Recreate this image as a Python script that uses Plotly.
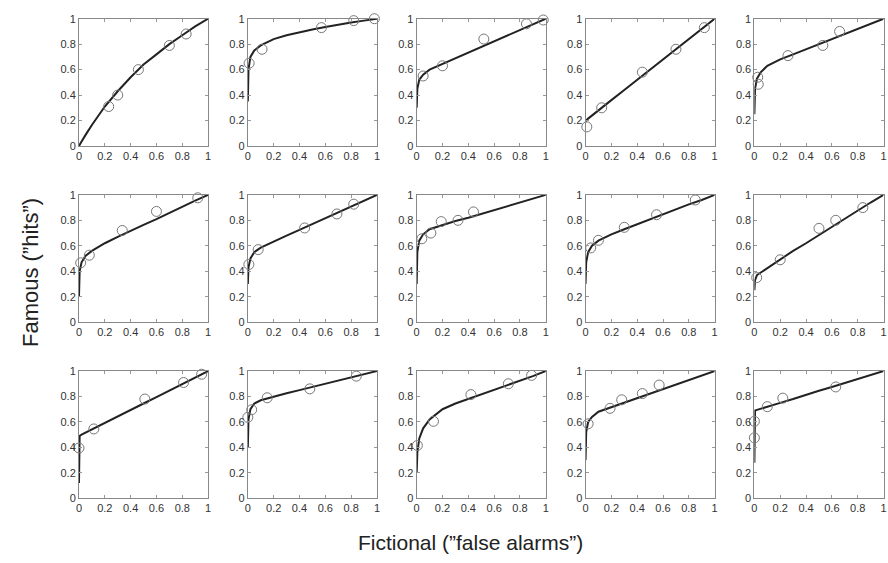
import plotly.graph_objects as go

# Observed (false alarm, hit) points for the 15 panels (row-major order)
pts_x = [
    [0.23, 0.30, 0.46, 0.70, 0.83],
    [0.01, 0.11, 0.57, 0.82, 0.98],
    [0.05, 0.20, 0.52, 0.85, 0.98],
    [0.01, 0.125, 0.44, 0.70, 0.92],
    [0.026, 0.03, 0.26, 0.53, 0.66],
    [0.013, 0.08, 0.335, 0.60, 0.92],
    [0.008, 0.08, 0.44, 0.69, 0.82],
    [0.04, 0.11, 0.19, 0.32, 0.44],
    [0.04, 0.10, 0.30, 0.55, 0.85],
    [0.018, 0.20, 0.50, 0.63, 0.84],
    [0.0, 0.115, 0.51, 0.81, 0.95],
    [0.0, 0.03, 0.15, 0.48, 0.84],
    [0.005, 0.13, 0.42, 0.71, 0.89],
    [0.02, 0.19, 0.28, 0.44, 0.57],
    [0.0, 0.0, 0.10, 0.22, 0.63],
]
pts_y = [
    [0.31, 0.40, 0.60, 0.79, 0.88],
    [0.65, 0.76, 0.93, 0.985, 1.0],
    [0.55, 0.63, 0.84, 0.96, 0.99],
    [0.15, 0.30, 0.58, 0.76, 0.93],
    [0.54, 0.485, 0.71, 0.79, 0.90],
    [0.466, 0.526, 0.72, 0.87, 0.977],
    [0.453, 0.57, 0.74, 0.85, 0.927],
    [0.655, 0.70, 0.79, 0.80, 0.866],
    [0.583, 0.643, 0.745, 0.844, 0.96],
    [0.35, 0.49, 0.737, 0.80, 0.90],
    [0.395, 0.545, 0.78, 0.91, 0.975],
    [0.636, 0.696, 0.79, 0.86, 0.96],
    [0.415, 0.605, 0.815, 0.90, 0.966],
    [0.585, 0.707, 0.774, 0.823, 0.89],
    [0.605, 0.475, 0.72, 0.787, 0.875],
]

# Fitted ROC curves at these false-alarm rates
curve_x = [0, 0.005, 0.02, 0.05, 0.1, 0.2, 0.3, 0.4, 0.5, 0.6, 0.7, 0.8, 0.9, 1.0]
curve_y = [
    [0.0, 0.01, 0.035, 0.085, 0.165, 0.31, 0.43, 0.54, 0.64, 0.72, 0.80, 0.87, 0.94, 1.0],
    [0.35, 0.60, 0.70, 0.75, 0.79, 0.84, 0.87, 0.895, 0.915, 0.935, 0.955, 0.97, 0.985, 1.0],
    [0.30, 0.45, 0.52, 0.56, 0.60, 0.645, 0.69, 0.735, 0.78, 0.825, 0.87, 0.915, 0.96, 1.0],
    [0.19, 0.20, 0.215, 0.24, 0.28, 0.36, 0.44, 0.52, 0.60, 0.68, 0.76, 0.84, 0.92, 1.0],
    [0.25, 0.45, 0.53, 0.58, 0.63, 0.68, 0.72, 0.76, 0.80, 0.84, 0.88, 0.92, 0.96, 1.0],
    [0.20, 0.40, 0.47, 0.52, 0.56, 0.62, 0.67, 0.72, 0.765, 0.81, 0.86, 0.905, 0.955, 1.0],
    [0.30, 0.43, 0.50, 0.55, 0.585, 0.635, 0.68, 0.725, 0.77, 0.815, 0.86, 0.91, 0.955, 1.0],
    [0.30, 0.55, 0.64, 0.69, 0.73, 0.765, 0.795, 0.82, 0.85, 0.88, 0.91, 0.94, 0.97, 1.0],
    [0.30, 0.47, 0.55, 0.60, 0.64, 0.69, 0.73, 0.77, 0.81, 0.845, 0.885, 0.925, 0.96, 1.0],
    [0.25, 0.33, 0.37, 0.39, 0.43, 0.495, 0.56, 0.62, 0.685, 0.75, 0.81, 0.875, 0.94, 1.0],
    [0.12, 0.49, 0.50, 0.515, 0.54, 0.59, 0.64, 0.695, 0.745, 0.795, 0.845, 0.90, 0.95, 1.0],
    [0.40, 0.62, 0.70, 0.745, 0.77, 0.80, 0.825, 0.85, 0.875, 0.90, 0.925, 0.95, 0.975, 1.0],
    [0.20, 0.36, 0.47, 0.55, 0.62, 0.70, 0.745, 0.78, 0.815, 0.85, 0.885, 0.92, 0.96, 1.0],
    [0.30, 0.52, 0.60, 0.64, 0.68, 0.715, 0.75, 0.785, 0.82, 0.855, 0.89, 0.93, 0.965, 1.0],
    [0.28, 0.69, 0.695, 0.705, 0.72, 0.75, 0.78, 0.815, 0.845, 0.875, 0.905, 0.94, 0.97, 1.0],
]

tick_vals = [0, 0.2, 0.4, 0.6, 0.8, 1]
tick_text = ["0", "0.2", "0.4", "0.6", "0.8", "1"]
y_title = "Famous (\u201dhits\u201d)"
x_title = "Fictional (\u201dfalse alarms\u201d)"

W, H = 888, 563
fig = go.Figure()
layout = dict(
    width=W, height=H, margin=dict(l=0, r=0, t=0, b=0),
    paper_bgcolor="white", plot_bgcolor="white", showlegend=False,
    font=dict(family="Liberation Sans, Arial, sans-serif", color="#333"),
)

for i in range(15):
    r, c = divmod(i, 5)
    n = "" if i == 0 else str(i + 1)
    left = 76.5 + 170 * c
    right = left + 130
    top = 13 + 180 * r
    bottom = top + 130
    ax = dict(
        domain=[left / W, min(right / W, 1)], range=[0, 1],
        tickvals=tick_vals, ticktext=tick_text,
        ticks="inside", ticklen=3, tickcolor="#999",
        showline=True, linecolor="#888", linewidth=1, mirror="ticks",
        showgrid=False, zeroline=False, tickfont=dict(size=11, color="#333"),
        fixedrange=True,
    )
    ay = dict(ax)
    ay["domain"] = [1 - bottom / H, 1 - top / H]
    ax["anchor"] = "y" + n
    ay["anchor"] = "x" + n
    layout["xaxis" + n] = ax
    layout["yaxis" + n] = ay
    fig.add_trace(go.Scatter(
        x=curve_x, y=curve_y[i], mode="lines",
        line=dict(color="#222", width=2), xaxis="x" + n, yaxis="y" + n,
        cliponaxis=False, hoverinfo="skip",
    ))
    fig.add_trace(go.Scatter(
        x=pts_x[i], y=pts_y[i], mode="markers",
        marker=dict(symbol="circle-open", size=10, color="#777",
                    line=dict(width=1, color="#777")),
        xaxis="x" + n, yaxis="y" + n, cliponaxis=False,
    ))

layout["annotations"] = [
    dict(text=y_title, x=27 / W, y=1 - 272 / H, xref="paper", yref="paper",
         textangle=-90, showarrow=False, font=dict(size=22, color="#222"),
         xanchor="center", yanchor="middle"),
    dict(text=x_title, x=471 / W, y=1 - 548 / H, xref="paper", yref="paper",
         showarrow=False, font=dict(size=21, color="#222"),
         xanchor="center", yanchor="middle"),
]
fig.update_layout(**layout)
fig.write_html(
    "out.html",
    config={"displayModeBar": False},
    post_script="document.body.style.margin='0';document.body.style.overflow='hidden';",
)
